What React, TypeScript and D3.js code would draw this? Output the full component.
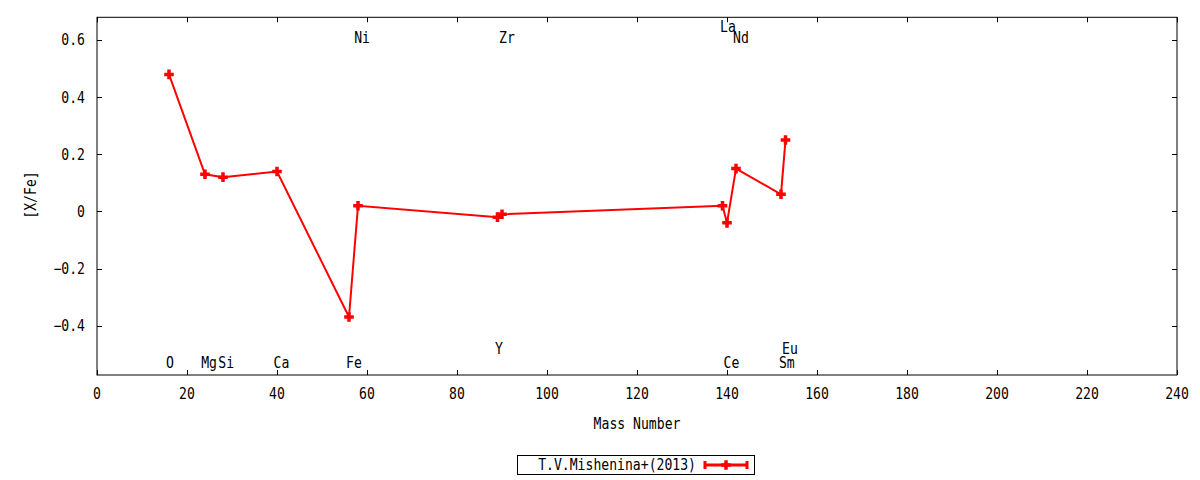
import React, { useEffect, useRef } from "react";
import * as d3 from "d3";

// abundances
const elements = ["O", "Mg", "Si", "Ca", "Fe", "Ni", "Y", "Zr", "La", "Ce", "Nd", "Sm", "Eu"];
const massNumbers = [16, 24, 28, 40, 56, 58, 89, 90, 139, 140, 142, 152, 153];
const xfeValues = [0.48, 0.13, 0.12, 0.14, -0.37, 0.02, -0.02, -0.01, 0.02, -0.04, 0.15, 0.06, 0.25];

// where each element name is written
const labelMass = [16.2, 24.9, 28.7, 41, 57.1, 58.9, 89.3, 91.1, 140.2, 141, 143.1, 153.3, 154];
const labelY = [-0.53, -0.53, -0.53, -0.53, -0.53, 0.607, -0.482, 0.607, 0.646, -0.53, 0.607, -0.53, -0.482];

const xTicks = [0, 20, 40, 60, 80, 100, 120, 140, 160, 180, 200, 220, 240];
const yTicks = [-0.4, -0.2, 0, 0.2, 0.4, 0.6];
const seriesName = "T.V.Mishenina+(2013)";

const WIDTH = 1200;
const HEIGHT = 480;
const FONT = "'DejaVu Sans Mono', monospace";
const RED = "#ff0000";
// gnuplot's text is taller and narrower than plain DejaVu Sans Mono
const FONT_SIZE = 15;
const SQUEEZE = 0.875;

type Sel = d3.Selection<any, unknown, null, undefined>;

const addText = (
  parent: Sel,
  x: number,
  y: number,
  s: string,
  anchor: "start" | "middle" | "end" = "middle",
  rotate = 0
) => {
  parent
    .append("text")
    .attr("transform", `translate(${x},${y}) rotate(${rotate}) scale(${SQUEEZE},1)`)
    .attr("text-anchor", anchor)
    .attr("dominant-baseline", "central")
    .text(s);
};

const App: React.FC = () => {
  const svgRef = useRef<SVGSVGElement | null>(null);

  useEffect(() => {
    if (!svgRef.current) return;
    const svg = d3.select(svgRef.current);
    svg.selectAll("*").remove();

    const margin = { top: 17.3, right: 23, bottom: 105, left: 97 };
    const x = d3.scaleLinear().domain([0, 240]).range([margin.left, WIDTH - margin.right]);
    const y = d3.scaleLinear().domain([-0.573, 0.68]).range([HEIGHT - margin.bottom, margin.top]);

    const [x0, x1] = x.range();
    const [yb, yt] = y.range();
    const tickLen = 5;

    // frame
    svg
      .append("rect")
      .attr("x", x0)
      .attr("y", yt)
      .attr("width", x1 - x0)
      .attr("height", yb - yt)
      .attr("fill", "none")
      .attr("stroke", "#000")
      .attr("stroke-width", 1);

    // x ticks, mirrored on top
    const gx = svg.append("g");
    xTicks.forEach((t) => {
      const px = Math.round(x(t)) + 0.5;
      gx.append("line").attr("x1", px).attr("x2", px).attr("y1", yb).attr("y2", yb - tickLen).attr("stroke", "#000");
      gx.append("line").attr("x1", px).attr("x2", px).attr("y1", yt).attr("y2", yt + tickLen).attr("stroke", "#000");
      addText(gx, x(t), 394, String(t));
    });

    // y ticks, mirrored on right
    const gy = svg.append("g");
    yTicks.forEach((t) => {
      const py = Math.round(y(t)) + 0.5;
      gy.append("line").attr("x1", x0).attr("x2", x0 + tickLen).attr("y1", py).attr("y2", py).attr("stroke", "#000");
      gy.append("line").attr("x1", x1).attr("x2", x1 - tickLen).attr("y1", py).attr("y2", py).attr("stroke", "#000");
      addText(gy, 85, y(t), t === 0 ? "0" : d3.format(".1f")(t), "end");
    });

    // axis titles
    addText(svg, (x0 + x1) / 2, 424, "Mass Number");
    addText(svg, 31, 195, "[X/Fe]", "middle", -90);

    // element names
    const gl = svg.append("g");
    elements.forEach((el, i) => addText(gl, x(labelMass[i]), y(labelY[i]), el));

    // series
    const pts = massNumbers.map((m, i) => [m, xfeValues[i]] as [number, number]);
    const line = d3
      .line<[number, number]>()
      .x((d) => x(d[0]))
      .y((d) => y(d[1]));

    svg
      .append("path")
      .attr("d", line(pts))
      .attr("fill", "none")
      .attr("stroke", RED)
      .attr("stroke-width", 2);

    const plus = (cx: number, cy: number, r = 4.8) =>
      `M${cx - r},${cy}H${cx + r}M${cx},${cy - r}V${cy + r}`;

    svg
      .append("g")
      .selectAll("path")
      .data(pts)
      .join("path")
      .attr("d", (d) => plus(x(d[0]), y(d[1])))
      .attr("stroke", RED)
      .attr("stroke-width", 3.5)
      .attr("fill", "none");

    // legend
    const lg = svg.append("g");
    lg.append("rect")
      .attr("x", 517.5)
      .attr("y", 455.5)
      .attr("width", 237)
      .attr("height", 19)
      .attr("fill", "none")
      .attr("stroke", "#000");
    addText(lg, 696, 465, seriesName, "end");
    lg.append("path")
      .attr("d", "M705,465H747M705,461V469M747,461V469")
      .attr("stroke", RED)
      .attr("stroke-width", 3)
      .attr("fill", "none");
    lg.append("path")
      .attr("d", plus(726, 465))
      .attr("stroke", RED)
      .attr("stroke-width", 3.5)
      .attr("fill", "none");
  }, []);

  return (
    <svg
      ref={svgRef}
      width={WIDTH}
      height={HEIGHT}
      style={{ position: "absolute", left: 0, top: 0, background: "#fff" }}
      fontFamily={FONT}
      fontSize={FONT_SIZE}
    ></svg>
  );
};

export default App;
